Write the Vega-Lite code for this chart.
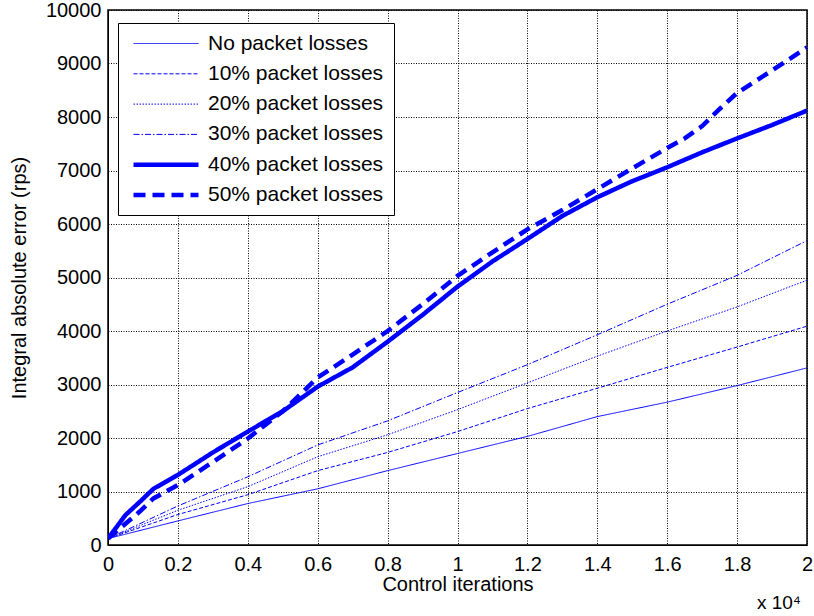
{
  "$schema": "https://vega.github.io/schema/vega-lite/v6.json",
  "width": 699,
  "height": 535,
  "autosize": {"type": "none"},
  "padding": {"left": 108, "top": 10, "right": 7, "bottom": 71},
  "background": "white",
  "config": {
    "font": "Liberation Sans",
    "view": {"stroke": "black", "strokeWidth": 1.5},
    "axis": {
      "labelFont": "Liberation Sans",
      "labelColor": "black",
      "titleFont": "Liberation Sans",
      "titleFontWeight": "normal",
      "titleColor": "black",
      "domainColor": "black",
      "tickColor": "black",
      "gridColor": "black",
      "gridDash": [1, 1.5],
      "gridOpacity": 1,
      "gridWidth": 1
    }
  },
  "title": {
    "text": "x 10⁴",
    "orient": "bottom",
    "anchor": "end",
    "frame": "group",
    "fontSize": 19,
    "fontWeight": "normal",
    "font": "Liberation Sans",
    "color": "black",
    "offset": 0,
    "dx": -6
  },
  "data": {
    "values": [
      {"it": 0, "err": 120, "series": "No packet losses"},
      {"it": 2000, "err": 450, "series": "No packet losses"},
      {"it": 4000, "err": 775, "series": "No packet losses"},
      {"it": 6000, "err": 1050, "series": "No packet losses"},
      {"it": 8000, "err": 1390, "series": "No packet losses"},
      {"it": 10000, "err": 1710, "series": "No packet losses"},
      {"it": 12000, "err": 2030, "series": "No packet losses"},
      {"it": 14000, "err": 2400, "series": "No packet losses"},
      {"it": 16000, "err": 2670, "series": "No packet losses"},
      {"it": 18000, "err": 2980, "series": "No packet losses"},
      {"it": 20000, "err": 3310, "series": "No packet losses"},

      {"it": 0, "err": 120, "series": "10% packet losses"},
      {"it": 2000, "err": 570, "series": "10% packet losses"},
      {"it": 4000, "err": 940, "series": "10% packet losses"},
      {"it": 6000, "err": 1390, "series": "10% packet losses"},
      {"it": 8000, "err": 1730, "series": "10% packet losses"},
      {"it": 10000, "err": 2120, "series": "10% packet losses"},
      {"it": 12000, "err": 2550, "series": "10% packet losses"},
      {"it": 14000, "err": 2930, "series": "10% packet losses"},
      {"it": 16000, "err": 3320, "series": "10% packet losses"},
      {"it": 18000, "err": 3700, "series": "10% packet losses"},
      {"it": 20000, "err": 4090, "series": "10% packet losses"},

      {"it": 0, "err": 120, "series": "20% packet losses"},
      {"it": 2000, "err": 650, "series": "20% packet losses"},
      {"it": 4000, "err": 1090, "series": "20% packet losses"},
      {"it": 6000, "err": 1650, "series": "20% packet losses"},
      {"it": 8000, "err": 2060, "series": "20% packet losses"},
      {"it": 10000, "err": 2530, "series": "20% packet losses"},
      {"it": 12000, "err": 3030, "series": "20% packet losses"},
      {"it": 14000, "err": 3530, "series": "20% packet losses"},
      {"it": 16000, "err": 4000, "series": "20% packet losses"},
      {"it": 18000, "err": 4450, "series": "20% packet losses"},
      {"it": 20000, "err": 4950, "series": "20% packet losses"},

      {"it": 0, "err": 120, "series": "30% packet losses"},
      {"it": 2000, "err": 730, "series": "30% packet losses"},
      {"it": 4000, "err": 1275, "series": "30% packet losses"},
      {"it": 6000, "err": 1870, "series": "30% packet losses"},
      {"it": 8000, "err": 2320, "series": "30% packet losses"},
      {"it": 10000, "err": 2850, "series": "30% packet losses"},
      {"it": 12000, "err": 3370, "series": "30% packet losses"},
      {"it": 14000, "err": 3930, "series": "30% packet losses"},
      {"it": 16000, "err": 4500, "series": "30% packet losses"},
      {"it": 18000, "err": 5040, "series": "30% packet losses"},
      {"it": 20000, "err": 5690, "series": "30% packet losses"},

      {"it": 0, "err": 120, "series": "40% packet losses"},
      {"it": 500, "err": 560, "series": "40% packet losses"},
      {"it": 900, "err": 800, "series": "40% packet losses"},
      {"it": 1300, "err": 1050, "series": "40% packet losses"},
      {"it": 2000, "err": 1310, "series": "40% packet losses"},
      {"it": 3000, "err": 1730, "series": "40% packet losses"},
      {"it": 4000, "err": 2120, "series": "40% packet losses"},
      {"it": 5000, "err": 2500, "series": "40% packet losses"},
      {"it": 6000, "err": 2960, "series": "40% packet losses"},
      {"it": 7000, "err": 3320, "series": "40% packet losses"},
      {"it": 8000, "err": 3800, "series": "40% packet losses"},
      {"it": 9000, "err": 4300, "series": "40% packet losses"},
      {"it": 10000, "err": 4830, "series": "40% packet losses"},
      {"it": 11000, "err": 5300, "series": "40% packet losses"},
      {"it": 12000, "err": 5720, "series": "40% packet losses"},
      {"it": 13000, "err": 6150, "series": "40% packet losses"},
      {"it": 14000, "err": 6500, "series": "40% packet losses"},
      {"it": 15000, "err": 6800, "series": "40% packet losses"},
      {"it": 16000, "err": 7060, "series": "40% packet losses"},
      {"it": 17000, "err": 7340, "series": "40% packet losses"},
      {"it": 18000, "err": 7600, "series": "40% packet losses"},
      {"it": 19000, "err": 7850, "series": "40% packet losses"},
      {"it": 20000, "err": 8120, "series": "40% packet losses"},

      {"it": 0, "err": 120, "series": "50% packet losses"},
      {"it": 900, "err": 620, "series": "50% packet losses"},
      {"it": 1300, "err": 870, "series": "50% packet losses"},
      {"it": 2000, "err": 1120, "series": "50% packet losses"},
      {"it": 3000, "err": 1550, "series": "50% packet losses"},
      {"it": 4000, "err": 1990, "series": "50% packet losses"},
      {"it": 5000, "err": 2500, "series": "50% packet losses"},
      {"it": 6000, "err": 3130, "series": "50% packet losses"},
      {"it": 7000, "err": 3560, "series": "50% packet losses"},
      {"it": 8000, "err": 4000, "series": "50% packet losses"},
      {"it": 9000, "err": 4500, "series": "50% packet losses"},
      {"it": 10000, "err": 5030, "series": "50% packet losses"},
      {"it": 11000, "err": 5470, "series": "50% packet losses"},
      {"it": 12000, "err": 5900, "series": "50% packet losses"},
      {"it": 13000, "err": 6260, "series": "50% packet losses"},
      {"it": 14000, "err": 6650, "series": "50% packet losses"},
      {"it": 15000, "err": 7040, "series": "50% packet losses"},
      {"it": 16000, "err": 7420, "series": "50% packet losses"},
      {"it": 16500, "err": 7600, "series": "50% packet losses"},
      {"it": 17000, "err": 7830, "series": "50% packet losses"},
      {"it": 17500, "err": 8150, "series": "50% packet losses"},
      {"it": 18000, "err": 8450, "series": "50% packet losses"},
      {"it": 19000, "err": 8870, "series": "50% packet losses"},
      {"it": 20000, "err": 9300, "series": "50% packet losses"}
    ]
  },
  "mark": {"type": "line", "color": "#0000FF", "clip": true},
  "encoding": {
    "x": {
      "field": "it",
      "type": "quantitative",
      "scale": {"domain": [0, 20000], "nice": false, "zero": false},
      "axis": {
        "title": "Control iterations",
        "values": [0, 2000, 4000, 6000, 8000, 10000, 12000, 14000, 16000, 18000, 20000],
        "labelExpr": "format(datum.value / 10000, '')",
        "labelFontSize": 20,
        "titleFontSize": 20,
        "labelPadding": 9,
        "titlePadding": 0,
        "tickSize": 0,
        "labelFlush": false
      }
    },
    "y": {
      "field": "err",
      "type": "quantitative",
      "scale": {"domain": [0, 10000], "nice": false},
      "axis": {
        "title": "Integral absolute error (rps)",
        "values": [0, 1000, 2000, 3000, 4000, 5000, 6000, 7000, 8000, 9000, 10000],
        "format": "d",
        "labelFontSize": 20,
        "titleFontSize": 20,
        "labelPadding": 7,
        "titlePadding": 16,
        "tickSize": 0,
        "labelFlush": false
      }
    },
    "detail": {"field": "series"},
    "order": {"field": "it", "type": "quantitative"},
    "strokeDash": {
      "field": "series",
      "type": "nominal",
      "scale": {
        "domain": ["No packet losses", "10% packet losses", "20% packet losses", "30% packet losses", "40% packet losses", "50% packet losses"],
        "range": [[1, 0], [4, 2], [1.5, 1.5], [6, 2, 1.5, 2], [1, 0], [12, 7]]
      },
      "legend": {
        "title": null,
        "orient": "none",
        "legendX": 10,
        "legendY": 13,
        "fillColor": "white",
        "strokeColor": "black",
        "padding": 10,
        "rowPadding": 8.3,
        "symbolType": "M-0.625,0H7.5",
        "symbolSize": 256,
        "symbolStrokeColor": "#0000FF",
        "symbolFillColor": "transparent",
        "labelOffset": 59,
        "labelFontSize": 21,
        "labelFont": "Liberation Sans",
        "labelColor": "black",
        "labelLimit": 400
      }
    },
    "strokeWidth": {
      "field": "series",
      "type": "ordinal",
      "scale": {
        "type": "ordinal",
        "domain": ["No packet losses", "10% packet losses", "20% packet losses", "30% packet losses", "40% packet losses", "50% packet losses"],
        "range": [1, 1, 1, 1, 4.5, 4.5]
      },
      "legend": {
        "title": null,
        "orient": "none",
        "legendX": 10,
        "legendY": 13,
        "fillColor": "white",
        "strokeColor": "black",
        "padding": 10,
        "rowPadding": 8.3,
        "symbolType": "M-0.625,0H7.5",
        "symbolSize": 256,
        "symbolStrokeColor": "#0000FF",
        "symbolFillColor": "transparent",
        "labelOffset": 59,
        "labelFontSize": 21,
        "labelFont": "Liberation Sans",
        "labelColor": "black",
        "labelLimit": 400
      }
    }
  }
}
